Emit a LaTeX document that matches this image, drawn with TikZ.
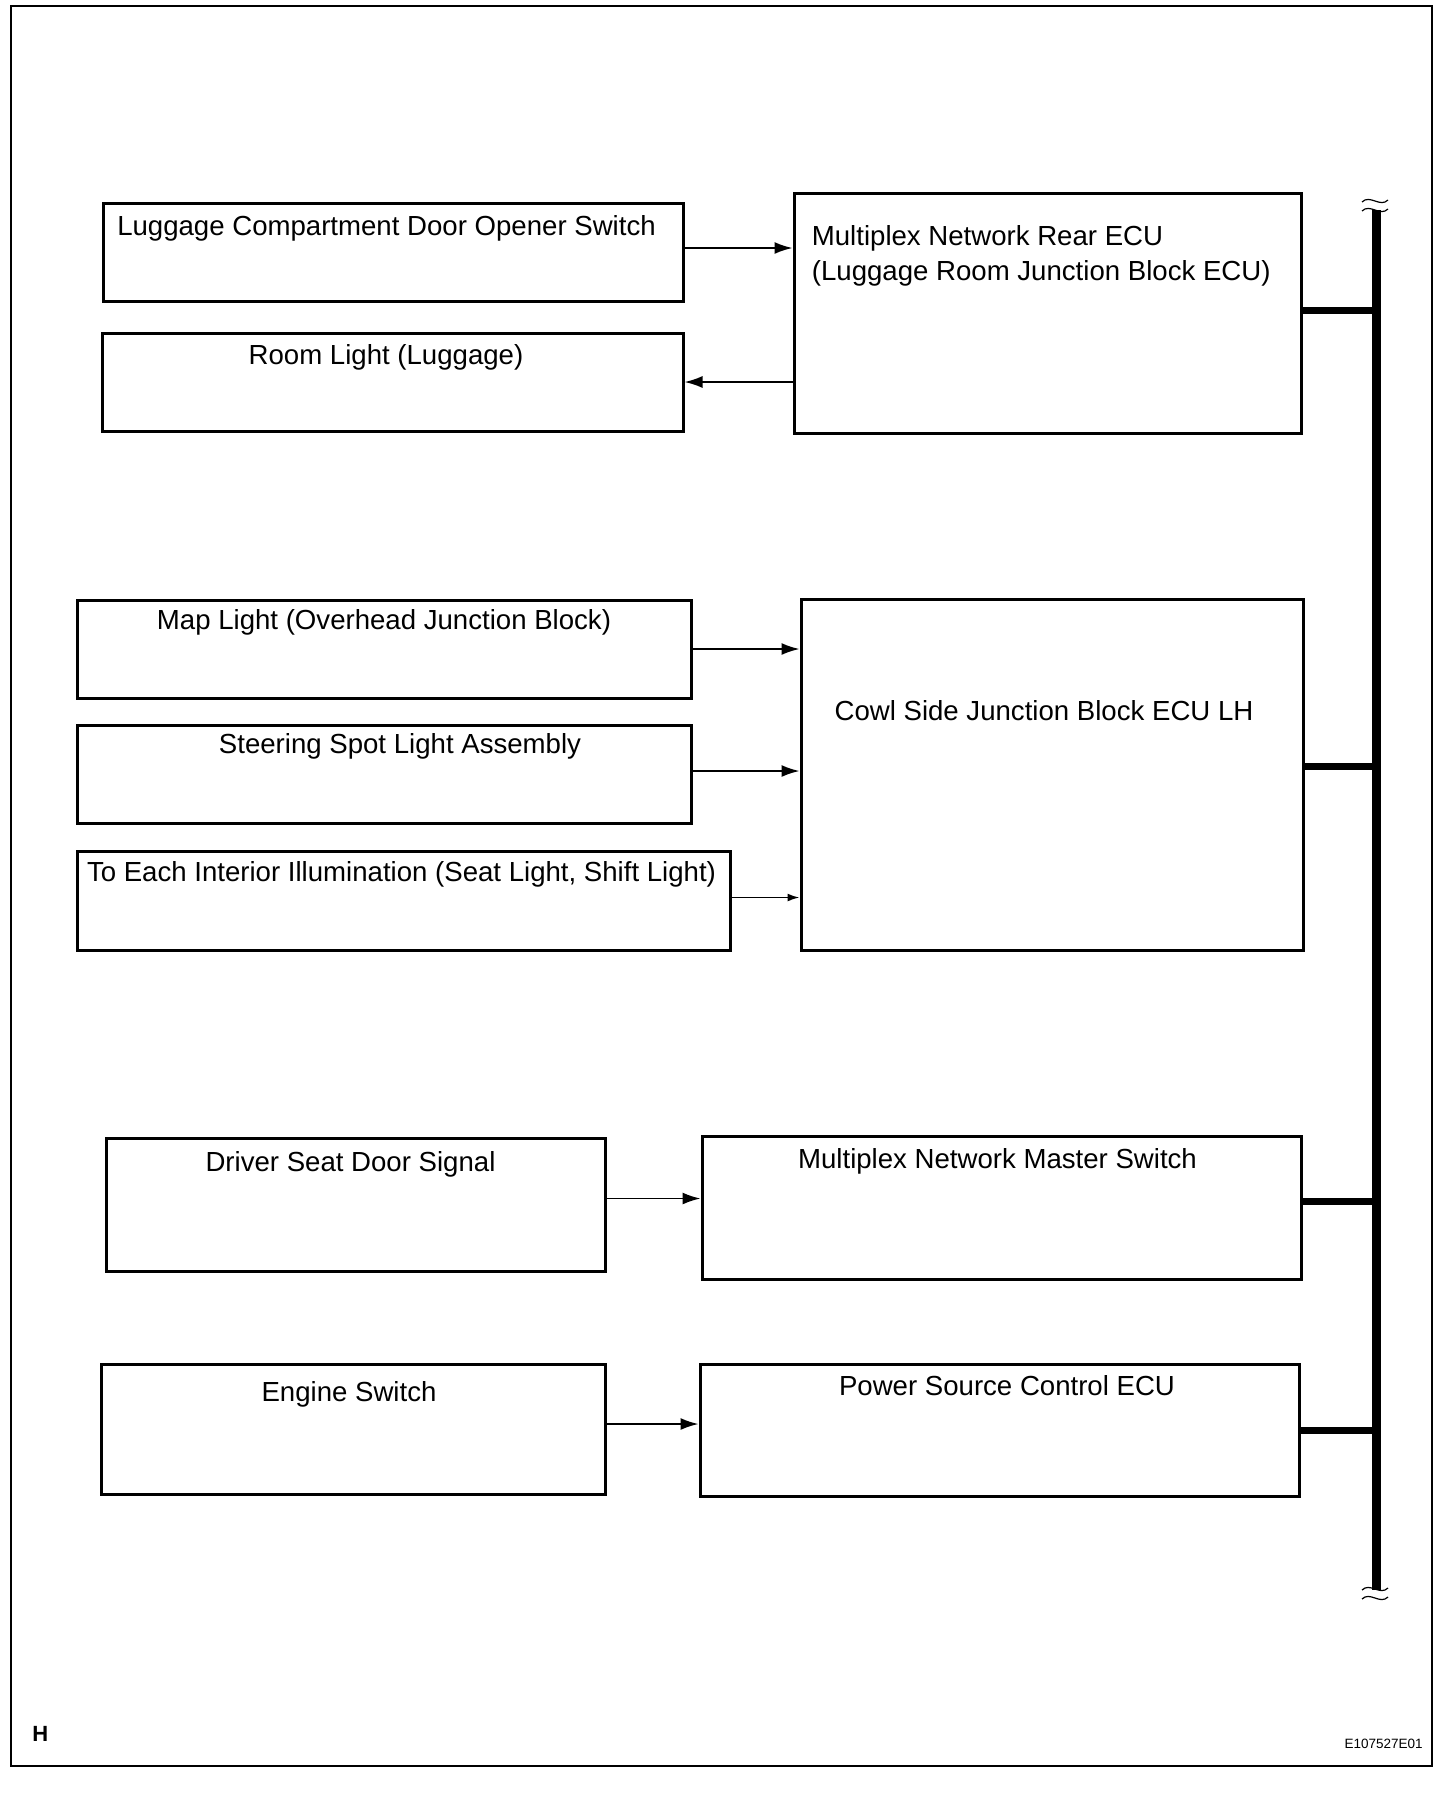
\documentclass[tikz,border=0pt]{standalone}
\usepackage{fontspec}
\setmainfont{Liberation Sans}
\usetikzlibrary{arrows.meta,calc}
\tikzset{
  box/.style={draw,line width=1.5pt,inner sep=0pt},
  lbl/.style={inner sep=0pt,anchor=base,font=\fontsize{13.8}{16}\selectfont},
  sig/.style={line width=0.9pt,-{Latex[length=9pt,width=6pt]}},
  bus/.style={line width=4.5pt},
  stub/.style={line width=3.5pt},
  brk/.style={line width=0.6pt}
}
\begin{document}
\begin{tikzpicture}[x=0.5pt,y=-0.5pt]
    \useasboundingbox (0,0) rectangle (1456,1800);
    % Frame
    \draw[line width=1.2pt] (11,6) rectangle (1432,1766);
    % Rear ECU group
    \node[box,minimum width=290pt,minimum height=49pt] (lcs) at (393,252) {};
    \node[box,minimum width=290.5pt,minimum height=49pt] (room) at (392.5,382) {};
    \node[box,minimum width=253.5pt,minimum height=120pt] (rear) at (1047.5,313) {};
    \node[lbl] (lcstxt) at ([shift={(-6.5,34)}]lcs.north) {Luggage Compartment Door Opener Switch};
    \node[lbl] (roomtxt) at ([shift={(-6.5,33)}]room.north) {Room Light (Luggage)};
    \node[lbl,anchor=base west] (reartxt) at ([shift={(19,54)}]rear.north west) {Multiplex Network Rear ECU};
    \node[lbl,anchor=base west] (reartxtb) at ([shift={(19,89)}]rear.north west) {(Luggage Room Junction Block ECU)};
    \draw[sig] ([yshift=2pt]lcs.east) -- ([yshift=2pt]lcs.east -| rear.west);
    \draw[sig] (room.east -| rear.west) -- (room.east);
    % Cowl side group
    \node[box,minimum width=307pt,minimum height=49pt] (map) at (384,649) {};
    \node[box,minimum width=307pt,minimum height=49pt] (spot) at (384,774) {};
    \node[box,minimum width=326.5pt,minimum height=49.5pt] (illum) at (403.5,900.5) {};
    \node[box,minimum width=251pt,minimum height=175.5pt] (cowl) at (1052,774.5) {};
    \node[lbl] (maptxt) at ([shift={(0,31)}]map.north) {Map Light (Overhead Junction Block)};
    \node[lbl] (spottxt) at ([shift={(16,30)}]spot.north) {Steering Spot Light Assembly};
    \node[lbl] (illumtxt) at ([shift={(-2,32)}]illum.north) {To Each Interior Illumination (Seat Light, Shift Light)};
    \node[lbl] (cowltxt) at ([shift={(-8,123)}]cowl.north) {Cowl Side Junction Block ECU LH};
    \draw[sig] (map.east) -- (map.east -| cowl.west);
    \draw[sig] ([yshift=1.5pt]spot.east) -- ([yshift=1.5pt]spot.east -| cowl.west);
    \draw[line width=0.9pt,-{Latex[length=6pt,width=4pt]}] ([yshift=1.5pt]illum.east) -- ([yshift=1.5pt]illum.east -| cowl.west);
    % Master switch group
    \node[box,minimum width=249.5pt,minimum height=66.5pt] (driver) at (355.5,1204.5) {};
    \node[box,minimum width=299.5pt,minimum height=71.5pt] (master) at (1001.5,1207.5) {};
    \node[lbl] (drivertxt) at ([shift={(-5,35)}]driver.north) {Driver Seat Door Signal};
    \node[lbl] (mastertxt) at ([shift={(-4,34)}]master.north) {Multiplex Network Master Switch};
    \draw[sig] ([yshift=3pt]driver.east) -- ([yshift=3pt]driver.east -| master.west);
    % Power source group
    \node[box,minimum width=252pt,minimum height=65pt] (engine) at (353,1429) {};
    \node[box,minimum width=299.5pt,minimum height=66pt] (power) at (999.5,1430) {};
    \node[lbl] (enginetxt) at ([shift={(-4,39)}]engine.north) {Engine Switch};
    \node[lbl] (powertxt) at ([shift={(7.5,33)}]power.north) {Power Source Control ECU};
    \draw[sig] ([yshift=2.5pt]engine.east) -- ([yshift=2.5pt]engine.east -| power.west);
    % Bus line
    \coordinate (bustop) at (1376.5,210);
    \coordinate (busbot) at (1376.5,1590);
    \draw[bus] (bustop) -- (busbot);
    \draw[stub] ([yshift=1.5pt]rear.east) -- ([yshift=1.5pt]rear.east -| bustop);
    \draw[stub] ([yshift=4.25pt]cowl.east) -- ([yshift=4.25pt]cowl.east -| bustop);
    \draw[stub] ([yshift=3.25pt]master.east) -- ([yshift=3.25pt]master.east -| bustop);
    \draw[stub] (power.east) -- (power.east -| bustop);
    % Break marks
    \foreach \yc in {201,210,1589,1598}
      \draw[brk] (1362,\yc+1) .. controls (1370,\yc-7) and (1380,\yc+7) .. (1388,\yc-1);
    % Corner labels
    \node[inner sep=0pt,anchor=base west,font=\fontsize{11}{13}\selectfont\bfseries] (hmark) at (32,1741) {H};
    \node[inner sep=0pt,anchor=base east,font=\fontsize{6.75}{8}\selectfont] (fignum) at (1423,1748) {E107527E01};
\end{tikzpicture}
\end{document}
